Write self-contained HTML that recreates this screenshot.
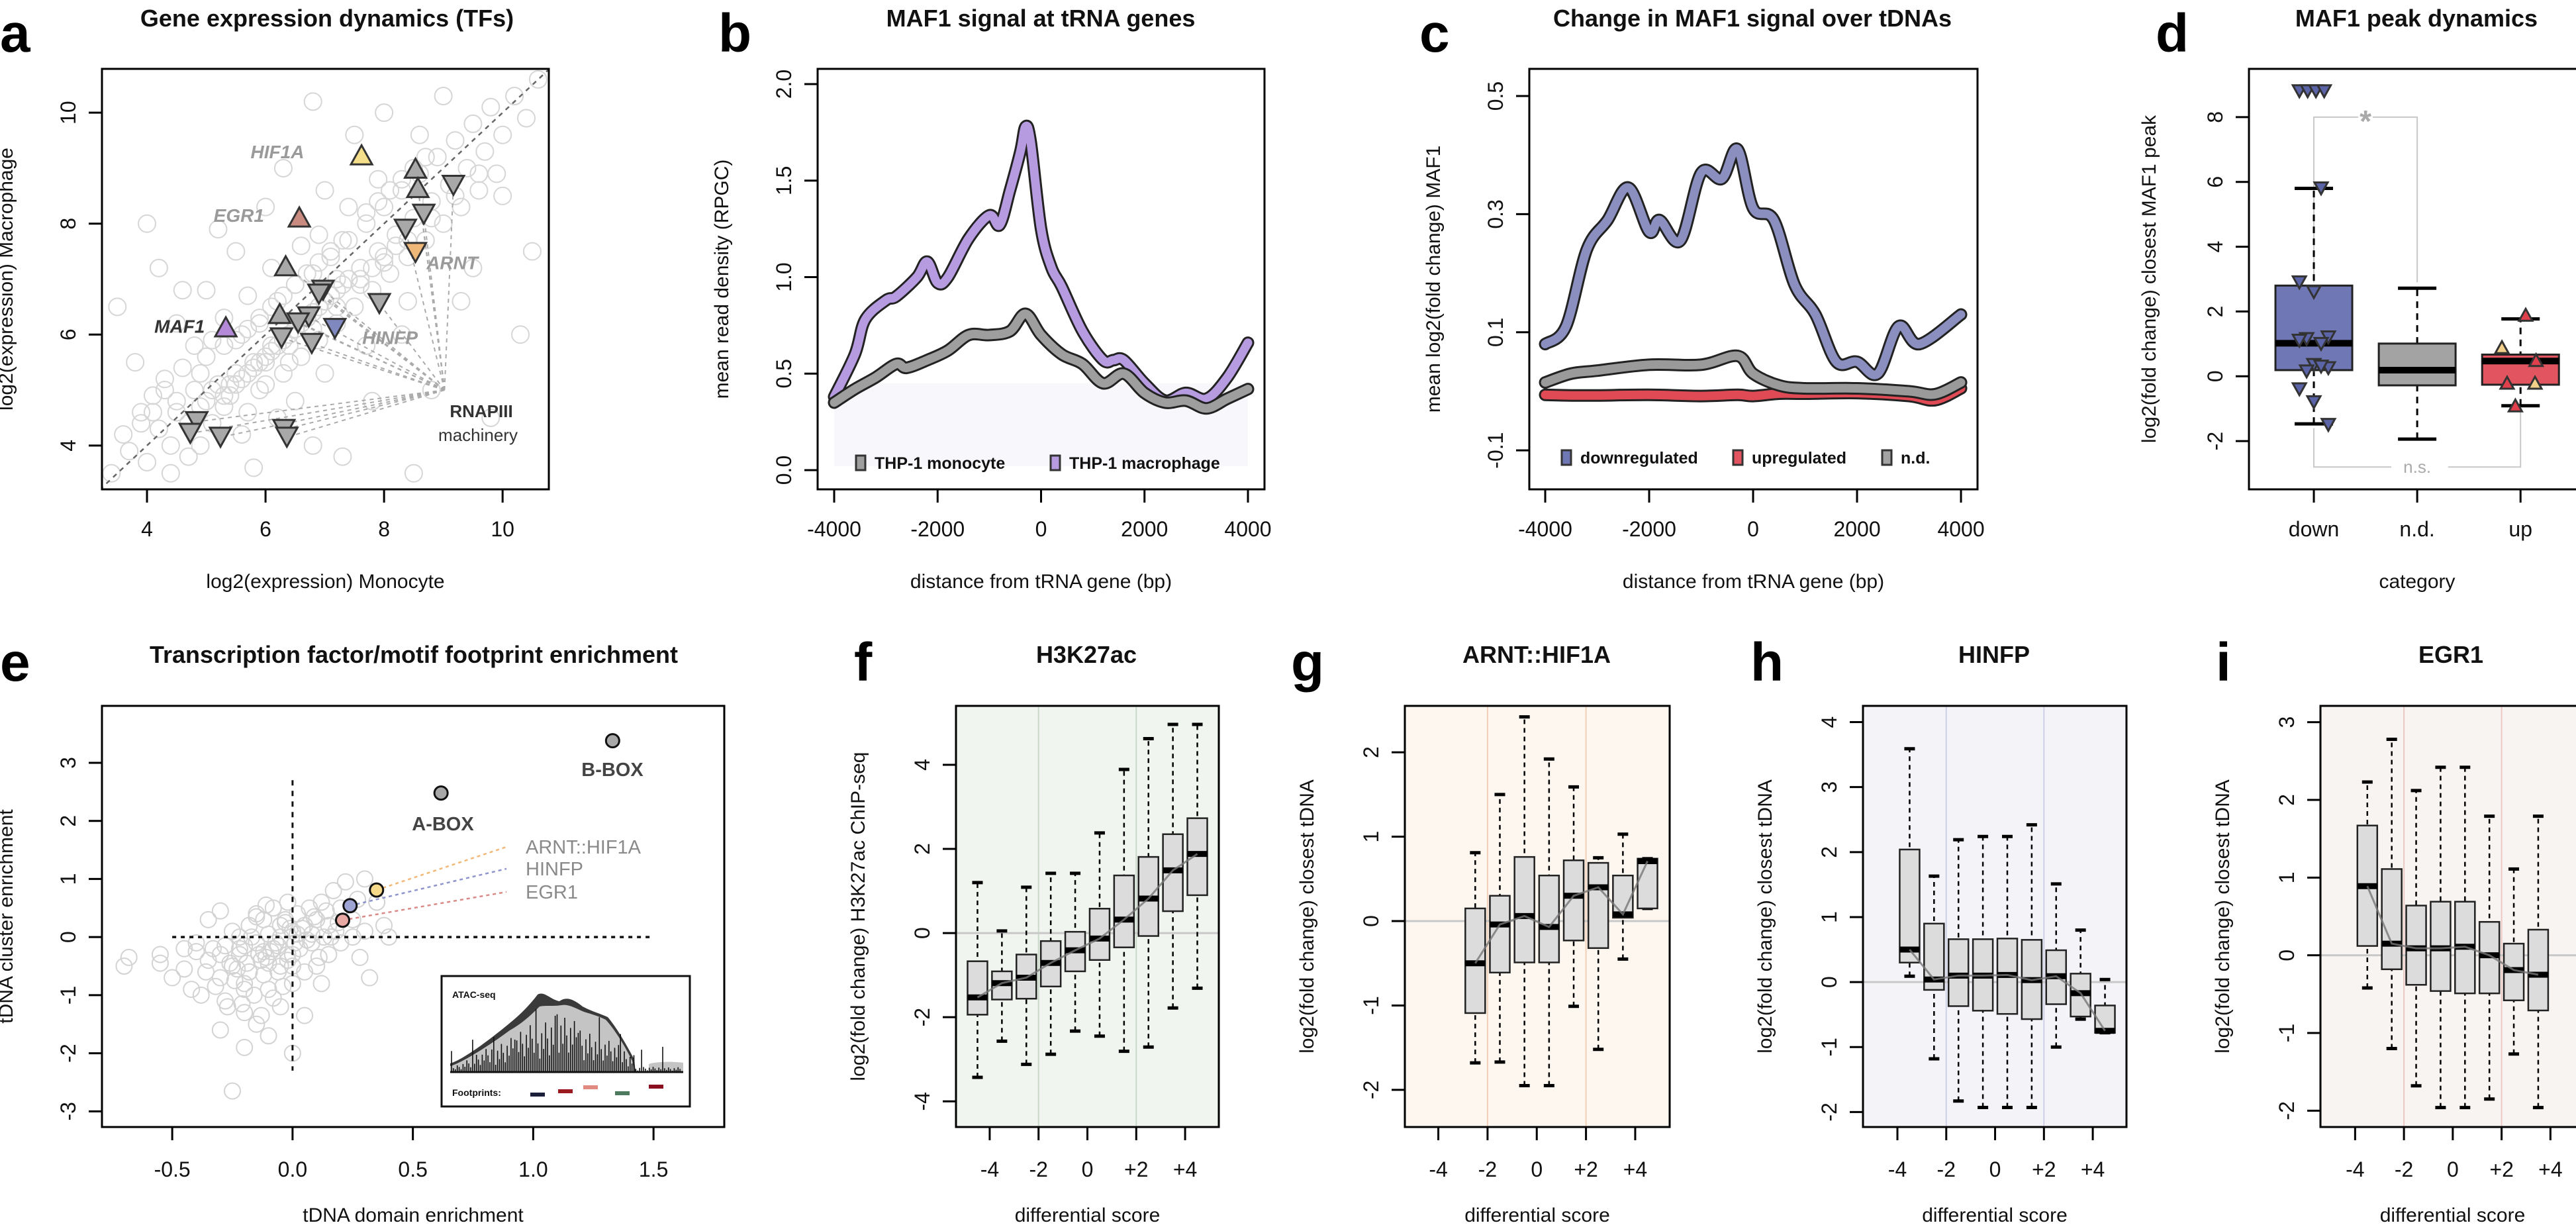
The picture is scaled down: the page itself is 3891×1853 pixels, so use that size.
<!DOCTYPE html>
<html><head><meta charset="utf-8"><title>MAF1 figure</title>
<style>
html,body{margin:0;padding:0;background:#fff;}
svg{display:block;font-family:"Liberation Sans",Arial,sans-serif;}
.tl{font-size:32px;fill:#111;}
.ax{font-size:30px;fill:#111;}
.ttl{font-size:36px;font-weight:bold;fill:#111;}
.let{font-size:82px;font-weight:bold;fill:#000;}
</style></head>
<body>
<svg id="fig" width="3891" height="1853" viewBox="0 0 3891 1853" xmlns="http://www.w3.org/2000/svg">
<text class="let" x="0" y="78">a</text>
<text class="let" x="1085" y="78">b</text>
<text class="let" x="2144" y="78">c</text>
<text class="let" x="3256" y="78">d</text>
<text class="let" x="0" y="1028">e</text>
<text class="let" x="1290" y="1028">f</text>
<text class="let" x="1950" y="1028">g</text>
<text class="let" x="2644" y="1028">h</text>
<text class="let" x="3347" y="1028">i</text>
<text class="ttl" x="494" y="40" text-anchor="middle">Gene expression dynamics (TFs)</text>
<text class="ttl" x="1572" y="40" text-anchor="middle">MAF1 signal at tRNA genes</text>
<text class="ttl" x="2647" y="40" text-anchor="middle">Change in MAF1 signal over tDNAs</text>
<text class="ttl" x="3650" y="40" text-anchor="middle">MAF1 peak dynamics</text>
<text class="ttl" x="625" y="1001" text-anchor="middle">Transcription factor/motif footprint enrichment</text>
<text class="ttl" x="1641" y="1001" text-anchor="middle">H3K27ac</text>
<text class="ttl" x="2321" y="1001" text-anchor="middle">ARNT::HIF1A</text>
<text class="ttl" x="3012" y="1001" text-anchor="middle">HINFP</text>
<text class="ttl" x="3702" y="1001" text-anchor="middle">EGR1</text>
</svg>
<script>
// ---------- DATA ----------
const cloudAx=[3.4,3.6,3.7,3.9,4.0,4.1,4.2,4.3,4.4,4.5,4.6,4.7,4.8,4.9,5.0,5.1,5.2,5.3,5.4,5.5,5.6,5.7,5.8,5.9,6.0,6.1,6.2,6.3,6.4,6.5,6.6,6.7,6.8,6.9,7.0,7.1,7.2,7.3,7.4,7.5,7.6,7.7,7.8,7.9,8.0,8.1,8.2,8.3,8.4,8.5,8.6,8.7,8.8,8.9,9.0,9.1,9.2,9.3,9.4,9.5,9.6,9.7,9.8,9.9,10.0,10.2,10.4,10.6,5.0,5.5,6.0,6.3,6.8,7.5,8.0,4.5,4.2,4.0,5.2,7.0,8.3,9.3,8.8,9.5,10.5,10.3,7.8,6.8,5.8,7.3,8.5,9.8,10.0,6.1,5.7,6.9,7.4,4.8,5.3,6.5,7.0,7.7,6.2,5.6,4.4,3.8,3.5,4.6,6.6,7.2,7.9,8.6,9.0,5.9,6.4,5.1,4.9,8.4,
 5.6,5.8,6.0,6.2,6.4,6.6,6.8,7.0,7.2,7.4,5.5,5.7,5.9,6.1,6.3,6.5,6.7,6.9,7.1,7.3,5.3,5.5,5.7,5.9,6.1,6.3,6.5,6.7,6.9,7.1,7.6,7.8,8.0,8.2,7.7,7.9,8.1,8.3,8.5,8.7,4.9,5.1,5.3,4.7,4.5,4.3,4.1,3.9,5.0,5.4,6.0,6.4,6.8,7.2,7.6,8.0,8.4,8.8,9.2,9.6];
const cloudAy=[3.5,4.2,3.9,4.6,3.7,4.9,4.3,5.2,4.0,4.6,5.4,3.8,5.0,4.7,5.6,4.4,5.1,5.8,4.9,5.3,6.0,4.6,5.5,6.2,5.1,5.8,6.6,5.3,6.0,6.9,5.6,6.3,7.1,5.9,6.6,7.4,6.2,6.9,7.7,6.5,7.2,8.0,6.8,7.5,8.3,7.1,7.8,8.6,7.4,8.1,8.9,7.7,8.4,9.2,8.0,8.7,9.5,8.3,9.0,9.8,8.6,9.3,10.1,8.9,9.6,10.3,9.9,10.6,6.8,7.5,8.3,9.0,10.2,9.6,10.0,6.2,7.2,8.0,7.9,8.6,6.0,6.6,5.0,7.2,7.5,6.0,4.8,4.0,3.6,3.8,3.5,4.5,8.5,7.2,6.7,7.8,8.3,5.8,6.3,4.8,5.3,5.8,4.5,4.2,3.5,5.5,6.5,6.8,7.6,7.0,8.8,9.6,10.3,5.0,5.5,5.9,4.0,6.6,
 5.2,5.4,5.6,5.8,6.0,6.2,6.4,6.6,6.8,7.0,5.9,6.1,6.3,6.5,6.7,6.9,7.1,7.3,7.5,7.7,4.9,5.1,5.3,5.5,5.7,5.9,6.1,6.3,6.5,6.7,7.0,7.2,7.4,7.6,8.2,8.4,8.6,8.8,9.0,9.2,5.3,5.0,4.7,4.4,4.8,5.0,4.6,4.4,4.8,5.1,5.5,5.8,6.1,6.5,6.9,7.3,7.7,8.1,8.5,8.9];
const triX=[7.62,6.57,5.33,8.53,7.17,8.53,8.57,6.34,6.24,9.17,8.67,8.36,6.97,6.90,7.92,6.73,6.55,6.27,6.78,4.84,4.73,5.24,6.31,6.36];
const triY=[9.24,8.12,6.14,7.48,6.11,9.00,8.65,7.24,6.38,8.69,8.17,7.90,6.80,6.73,6.56,6.32,6.21,5.94,5.84,4.43,4.22,4.15,4.29,4.15];
const triUp=[1,1,1,0,0,1,1,1,1,0,0,0,0,0,0,0,0,0,0,0,0,0,0,0];
const triCol=['#f5df8a','#c98a80','#b48ad8','#f0b878','#8088c0','#a8a8a8','#a8a8a8','#a8a8a8','#a8a8a8','#a8a8a8','#a8a8a8','#a8a8a8','#a8a8a8','#a8a8a8','#a8a8a8','#a8a8a8','#a8a8a8','#a8a8a8','#a8a8a8','#a8a8a8','#a8a8a8','#a8a8a8','#a8a8a8','#a8a8a8'];
const posB=[-4000,-3600,-3400,-3000,-2800,-2400,-2200,-2000,-1800,-1400,-1000,-800,-600,-400,-300,-200,0,200,400,800,1200,1400,1600,2000,2400,2800,3200,3600,4000];
const macroB=[0.38,0.6,0.78,0.88,0.9,1.0,1.08,0.97,1.0,1.2,1.32,1.27,1.45,1.65,1.78,1.7,1.25,1.05,0.95,0.72,0.57,0.57,0.57,0.45,0.36,0.4,0.37,0.48,0.66];
const posB2=[-4000,-3600,-3200,-2800,-2600,-2200,-1800,-1400,-1000,-600,-300,0,400,800,1200,1600,2000,2400,2800,3200,3600,4000];
const monoB=[0.35,0.42,0.48,0.55,0.53,0.57,0.62,0.70,0.70,0.72,0.81,0.70,0.60,0.55,0.45,0.50,0.40,0.35,0.36,0.32,0.37,0.42];
const posC=[-4000,-3600,-3200,-2800,-2400,-2000,-1800,-1400,-1000,-600,-300,0,400,800,1200,1600,2000,2400,2800,3200,4000];
const downC=[0.08,0.11,0.24,0.29,0.345,0.27,0.29,0.255,0.37,0.36,0.41,0.31,0.29,0.18,0.13,0.05,0.05,0.03,0.11,0.08,0.13];
const posC2=[-4000,-3500,-3000,-2000,-1000,-300,0,500,1000,2000,3000,3500,4000];
const ndC=[0.015,0.03,0.035,0.045,0.045,0.06,0.03,0.01,0.005,0.005,0.0,-0.005,0.015];
const upC=[-0.006,-0.007,-0.007,-0.006,-0.008,-0.006,-0.008,-0.004,-0.004,-0.003,-0.008,-0.015,0.005];
const catD=['down','n.d.','up'];
const boxD=[[-1.47,0.19,1.02,2.8,5.8],[-1.94,-0.28,0.19,1.01,2.72],[-0.91,-0.26,0.47,0.67,1.77]];
const colD=['#7077b5','#a3a3a3','#e25560'];
const downPts=[8.8,8.8,8.8,8.8,5.8,2.9,2.6,1.2,1.15,1.0,1.1,0.35,0.25,0.15,0.3,-0.4,-0.8,-1.5];
const upRed=[1.9,0.5,-0.2,-0.9];
const upYel=[0.9,-0.2];
const cloudEx=[-0.7,-0.68,-0.55,-0.55,-0.5,-0.45,-0.42,-0.4,-0.38,-0.35,-0.33,-0.3,-0.3,-0.28,-0.25,-0.25,-0.22,-0.2,-0.2,-0.18,-0.18,-0.15,-0.15,-0.13,-0.12,-0.1,-0.1,-0.08,-0.08,-0.06,-0.05,-0.05,-0.03,-0.02,0.0,0.0,0.02,0.03,0.05,0.05,0.07,0.08,0.1,0.1,0.12,0.13,0.15,0.15,0.17,0.18,0.2,0.2,0.22,0.25,0.27,0.3,0.3,0.32,0.35,0.38,0.4,0.05,-0.25,0.0,-0.2,-0.3,-0.35,-0.4,-0.12,-0.1,0.0,-0.2,-0.05,0.08,-0.15,0.25,0.28,-0.45,-0.02,0.12,-0.22,-0.3,
 -0.26,-0.22,-0.18,-0.14,-0.1,-0.06,-0.02,0.02,0.06,-0.24,-0.2,-0.16,-0.12,-0.08,-0.04,0.0,0.04,-0.28,-0.23,-0.17,-0.11,-0.07,-0.01,0.09,0.14,0.19,-0.32,-0.27,-0.21,-0.13,-0.09,-0.03,0.11,0.16,-0.19,-0.15,-0.11,-0.05,0.01,-0.36];
const cloudEy=[-0.5,-0.35,-0.3,-0.45,-0.7,-0.55,-0.9,-0.1,-1.0,-0.4,-0.2,-0.7,0.45,-1.1,-0.5,0.1,-0.3,-0.8,-1.3,0.2,-0.6,-1.5,-0.1,-0.4,0.3,-0.9,-1.7,-0.2,0.5,-0.6,0.0,-1.2,0.25,-0.4,0.1,-0.8,0.4,-0.2,0.2,-0.6,0.5,-0.1,0.3,-0.5,0.6,0.0,0.2,-0.3,0.8,0.1,0.5,-0.1,0.95,0.3,0.65,1.0,0.1,-0.7,0.6,0.2,0.0,-1.35,-2.65,-2.0,-1.9,-1.6,0.3,-0.25,-0.25,0.05,-0.3,-0.15,-0.5,0.05,0.35,0.0,-0.35,-0.2,0.6,-0.8,0.0,-0.3,
 -0.45,-0.2,-0.6,-0.3,-0.45,-0.15,-0.3,0.05,-0.05,-0.75,-0.9,-1.0,-0.65,-1.05,-0.85,-0.5,0.15,-0.15,-0.55,0.0,-0.35,-0.1,0.15,0.35,0.45,0.25,-0.85,-1.2,-1.15,-1.35,-0.25,0.3,-0.35,0.0,-0.45,0.4,0.55,0.2,-0.1,-0.6];
const motifName=['B-BOX','A-BOX','ARNT::HIF1A','HINFP','EGR1'];
const motifX=[1.33,0.617,0.349,0.239,0.208];
const motifY=[3.38,2.48,0.81,0.54,0.29];
const motifCol=['#a8a8a8','#a8a8a8','#f7d98a','#9ea4d4','#e8a8a4'];
const posF=[-4.5,-3.5,-2.5,-1.5,-0.5,0.5,1.5,2.5,3.5,4.5];
const boxF=[[-3.43,-1.94,-1.53,-0.67,1.2],[-2.57,-1.58,-1.19,-0.91,0.05],[-3.12,-1.56,-1.06,-0.51,1.09],[-2.88,-1.27,-0.71,-0.19,1.42],[-2.33,-0.91,-0.41,0.03,1.42],[-2.45,-0.64,-0.13,0.58,2.38],[-2.81,-0.34,0.32,1.37,3.89],[-2.71,-0.07,0.82,1.81,4.62],[-1.78,0.52,1.49,2.35,4.96],[-1.31,0.9,1.88,2.73,4.96]];
const posG=[-2.5,-1.5,-0.5,0.5,1.5,2.5,3.5,4.5];
const boxG=[[-1.68,-1.09,-0.5,0.15,0.81],[-1.67,-0.61,-0.04,0.3,1.5],[-1.95,-0.49,0.06,0.76,2.42],[-1.95,-0.49,-0.07,0.54,1.92],[-1.01,-0.23,0.3,0.72,1.59],[-1.52,-0.32,0.4,0.69,0.75],[-0.45,0.04,0.08,0.54,1.03],[0.15,0.15,0.71,0.74,0.74]];
const posH=[-3.5,-2.5,-1.5,-0.5,0.5,1.5,2.5,3.5,4.5];
const boxH=[[0.09,0.3,0.5,2.04,3.59],[-1.18,-0.12,0.04,0.9,1.63],[-1.83,-0.37,0.1,0.66,2.19],[-1.93,-0.44,0.1,0.66,2.24],[-1.93,-0.49,0.11,0.67,2.24],[-1.93,-0.57,0.03,0.65,2.42],[-1.0,-0.34,0.09,0.49,1.51],[-0.57,-0.53,-0.17,0.13,0.8],[-0.78,-0.78,-0.75,-0.36,0.04]];
const posI=[-3.5,-2.5,-1.5,-0.5,0.5,1.5,2.5,3.5];
const boxI=[[-0.42,0.12,0.89,1.67,2.23],[-1.2,-0.18,0.15,1.11,2.78],[-1.68,-0.38,0.09,0.64,2.12],[-1.96,-0.46,0.09,0.69,2.42],[-1.96,-0.49,0.11,0.69,2.42],[-1.85,-0.49,0.0,0.43,1.79],[-1.27,-0.58,-0.19,0.15,1.11],[-1.96,-0.71,-0.25,0.33,1.79]];
const diffTicks=[-4,-2,0,2,4];
const diffLabels=['-4','-2','0','+2','+4'];

// ---------- HELPERS ----------
const NS='http://www.w3.org/2000/svg';
const svg=document.getElementById('fig');
function mk(tag,attrs,parent){const e=document.createElementNS(NS,tag);for(const k in attrs)e.setAttribute(k,attrs[k]);(parent||svg).appendChild(e);return e;}
function lin(d0,d1,r0,r1){return v=>r0+(v-d0)/(d1-d0)*(r1-r0);}
function panel(x0,y0,x1,y1,xd,yd){return {x0,y0,x1,y1,sx:lin(xd[0],xd[1],x0,x1),sy:lin(yd[0],yd[1],y1,y0)};}
function smooth(pts){let d='M'+pts[0][0]+','+pts[0][1];for(let i=0;i<pts.length-1;i++){const p0=pts[i-1]||pts[i],p1=pts[i],p2=pts[i+1],p3=pts[i+2]||p2;const c1=[p1[0]+(p2[0]-p0[0])/6,p1[1]+(p2[1]-p0[1])/6],c2=[p2[0]-(p3[0]-p1[0])/6,p2[1]-(p3[1]-p1[1])/6];d+=' C'+c1[0]+','+c1[1]+' '+c2[0]+','+c2[1]+' '+p2[0]+','+p2[1];}return d;}
function clip(P,id){const cp=mk('clipPath',{id:id});mk('rect',{x:P.x0,y:P.y0,width:P.x1-P.x0,height:P.y1-P.y0},cp);return 'url(#'+id+')';}
function frame(P,name){
  const r=mk('rect',{x:P.x0,y:P.y0,width:P.x1-P.x0,height:P.y1-P.y0,fill:'none',stroke:'#000','stroke-width':3});
  
  
}
function xaxis(P,name,ticks,labels,title,lblY,titleY){
  ticks.forEach((t,i)=>{
    const x=P.sx(t);
    const l=mk('line',{x1:x,x2:x,y1:P.y1,y2:P.y1+20,stroke:'#000','stroke-width':3});
    
    
    const tx=mk('text',{x:x,y:lblY,'text-anchor':'middle',class:'tl'});tx.textContent=labels[i];
    
    
  });
  const tt=mk('text',{x:(P.x0+P.x1)/2,y:titleY,'text-anchor':'middle',class:'ax'});tt.textContent=title;
  
  
}
function yaxis(P,name,ticks,labels,title,off){
  ticks.forEach((t,i)=>{
    const y=P.sy(t);
    const l=mk('line',{x1:P.x0-20,x2:P.x0,y1:y,y2:y,stroke:'#000','stroke-width':3});
    
    
    const tx=mk('text',{x:P.x0-40,y:y,'text-anchor':'middle',class:'tl',transform:'rotate(-90 '+(P.x0-40)+' '+y+')'});tx.textContent=labels[i];
    
    
  });
  const cx=P.x0-(off||128),cy=(P.y0+P.y1)/2;
  const tt=mk('text',{x:cx,y:cy,'text-anchor':'middle',class:'ax',transform:'rotate(-90 '+cx+' '+cy+')'});tt.textContent=title;
  
  
}
function tri(x,y,up,col,s,parent){
  const h=s*0.9;
  const pts=up?[[x-s/2,y+h/2],[x+s/2,y+h/2],[x,y-h/2]]:[[x-s/2,y-h/2],[x+s/2,y-h/2],[x,y+h/2]];
  return mk('polygon',{points:pts.map(p=>p.join(',')).join(' '),fill:col,stroke:'#333','stroke-width':3},parent);
}
mk('defs',{});

// ---------- PANEL A ----------
const A=panel(154,104,829,739,[3.24,10.78],[3.21,10.79]);
const gA=mk('g',{'clip-path':clip(A,'clipA')});


cloudAx.forEach((v,i)=>{
  const c=mk('circle',{cx:A.sx(v),cy:A.sy(cloudAy[i]),r:13,fill:'none',stroke:'#d6d6d6','stroke-width':2},gA);
  
  
});
const diag=mk('line',{x1:A.sx(3.2),y1:A.sy(3.2),x2:A.sx(10.8),y2:A.sy(10.8),stroke:'#666','stroke-width':2.5,'stroke-dasharray':'7,7'},gA);


const rnaX=9.02,rnaY=5.0;
triX.forEach((v,i)=>{
  if(triCol[i]!=='#a8a8a8')return;
  const l=mk('line',{x1:A.sx(rnaX),y1:A.sy(rnaY),x2:A.sx(v),y2:A.sy(triY[i]),stroke:'#aaa','stroke-width':2,'stroke-dasharray':'6,6'},gA);
  
  
});
triX.forEach((v,i)=>{
  const t=tri(A.sx(v),A.sy(triY[i]),triUp[i],triCol[i],32,gA);
  
  
});
const labA=[['HIF1A',6.2,9.3,'#9a9a9a'],['EGR1',5.55,8.15,'#9a9a9a'],['MAF1',4.55,6.15,'#333'],['ARNT',9.15,7.3,'#9a9a9a'],['HINFP',8.1,5.95,'#9a9a9a']];
labA.forEach(L=>{
  const t=mk('text',{x:A.sx(L[1]),y:A.sy(L[2])+10,'text-anchor':'middle','font-size':28,'font-style':'italic','font-weight':'bold',fill:L[3]});t.textContent=L[0];
  
  
});
const r1=mk('text',{x:727,y:630,'text-anchor':'middle','font-size':26,'font-weight':'bold',fill:'#333'});r1.textContent='RNAPIII';


const r2=mk('text',{x:722,y:666,'text-anchor':'middle','font-size':26,fill:'#333'});r2.textContent='machinery';


frame(A,'panel-a');
xaxis(A,'panel-a',[4,6,8,10],['4','6','8','10'],'log2(expression) Monocyte',810,888);
yaxis(A,'panel-a',[4,6,8,10],['4','6','8','10'],'log2(expression) Macrophage',135);

// ---------- PANEL B ----------
const B=panel(1235,104,1910,739,[-4320,4320],[-0.0995,2.079]);
const bg=mk('rect',{x:1260,y:B.sy(0.45),width:625,height:B.sy(0.02)-B.sy(0.45),fill:'#f3f4fa',opacity:0.6});


function curve(P,xs,ys,col,name){
  const pts=xs.map((v,i)=>[P.sx(v),P.sy(ys[i])]);
  const d=smooth(pts);
  const o=mk('path',{d:d,fill:'none',stroke:'#222','stroke-width':19,'stroke-linejoin':'round','stroke-linecap':'round'});
  
  
  const p=mk('path',{d:d,fill:'none',stroke:col,'stroke-width':13,'stroke-linejoin':'round','stroke-linecap':'round'});
  
  
}
curve(B,posB,macroB,'#b79be0','macrophage-line');
curve(B,posB2,monoB,'#9e9e9e','monocyte-line');
function legend(x,y,col,label,name){
  const r=mk('rect',{x:x,y:y-20,width:14,height:22,fill:col,stroke:'#333','stroke-width':3});
  
  
  const t=mk('text',{x:x+28,y:y,'font-size':25,'font-weight':'bold',fill:'#111'});t.textContent=label;
  
  
}
legend(1293,708,'#9e9e9e','THP-1 monocyte','legend-monocyte');
legend(1587,708,'#b79be0','THP-1 macrophage','legend-macrophage');
frame(B,'panel-b');
xaxis(B,'panel-b',[-4000,-2000,0,2000,4000],['-4000','-2000','0','2000','4000'],'distance from tRNA gene (bp)',810,888);
yaxis(B,'panel-b',[0,0.5,1,1.5,2],['0.0','0.5','1.0','1.5','2.0'],'mean read density (RPGC)',135);

// ---------- PANEL C ----------
const C=panel(2310,104,2987,739,[-4306,4318],[-0.166,0.546]);
curve(C,posC2,upC,'#e04a55','upregulated-line');
curve(C,posC2,ndC,'#9a9a9a','nd-line');
curve(C,posC,downC,'#8a8fbf','downregulated-line');
legend(2359,700,'#7077b5','downregulated','legend-downregulated');
legend(2618,700,'#e25560','upregulated','legend-upregulated');
legend(2843,700,'#a3a3a3','n.d.','legend-nd');
frame(C,'panel-c');
xaxis(C,'panel-c',[-4000,-2000,0,2000,4000],['-4000','-2000','0','2000','4000'],'distance from tRNA gene (bp)',810,888);
yaxis(C,'panel-c',[-0.1,0.1,0.3,0.5],['-0.1','0.1','0.3','0.5'],'mean log2(fold change) MAF1',135);

// ---------- PANEL D ----------
const D=panel(3397,104,3904,739,[0.372,3.62],[-3.49,9.49]);
const brk=mk('polyline',{points:[[D.sx(1),D.sy(2.9)],[D.sx(1),D.sy(8)],[D.sx(1.43),D.sy(8)]].join(' '),fill:'none',stroke:'#c8c8c8','stroke-width':2});


const brk2=mk('polyline',{points:[[D.sx(1.57),D.sy(8)],[D.sx(2),D.sy(8)],[D.sx(2),D.sy(2.9)]].join(' '),fill:'none',stroke:'#c8c8c8','stroke-width':2});


const star=mk('text',{x:D.sx(1.5),y:D.sy(8)+22,'text-anchor':'middle','font-size':46,'font-weight':'bold',fill:'#aaa'});star.textContent='*';


const ns=mk('polyline',{points:[[D.sx(1),D.sy(-1.6)],[D.sx(1),D.sy(-2.8)],[D.sx(1.75),D.sy(-2.8)]].join(' '),fill:'none',stroke:'#c8c8c8','stroke-width':2});


const ns2=mk('polyline',{points:[[D.sx(2.3),D.sy(-2.8)],[D.sx(3),D.sy(-2.8)],[D.sx(3),D.sy(-1)]].join(' '),fill:'none',stroke:'#c8c8c8','stroke-width':2});


const nst=mk('text',{x:D.sx(2),y:D.sy(-2.8)+9,'text-anchor':'middle','font-size':26,fill:'#aaa'});nst.textContent='n.s.';


boxD.forEach((b,i)=>{
  const x=D.sx(i+1),hw=58;
  const w=mk('line',{x1:x,x2:x,y1:D.sy(b[0]),y2:D.sy(b[4]),stroke:'#000','stroke-width':3,'stroke-dasharray':'10,8'});
  
  
  [b[0],b[4]].forEach(v=>{const c=mk('line',{x1:x-29,x2:x+29,y1:D.sy(v),y2:D.sy(v),stroke:'#000','stroke-width':5});
    
    });
  const r=mk('rect',{x:x-hw,y:D.sy(b[3]),width:2*hw,height:D.sy(b[1])-D.sy(b[3]),fill:colD[i],stroke:'#222','stroke-width':3});
  
  
  const m=mk('line',{x1:x-hw,x2:x+hw,y1:D.sy(b[2]),y2:D.sy(b[2]),stroke:'#000','stroke-width':10});
  
  
  const tk=mk('line',{x1:x,x2:x,y1:D.y1,y2:D.y1+20,stroke:'#000','stroke-width':3});
  
  
  const tl=mk('text',{x:x,y:810,'text-anchor':'middle',class:'tl'});tl.textContent=catD[i];
  
  
});
downPts.forEach((v,i)=>{
  const dx=(i<4)?(-0.14+i*0.08):(((i*7)%5)-2)*0.07;
  const t=tri(D.sx(1+dx),D.sy(v),0,'#5c64a8',20);
  
  
});
upRed.forEach((v,i)=>{
  const dx=[0.05,0.15,-0.13,-0.05][i%4];
  const t=tri(D.sx(3+dx),D.sy(v),1,'#e0404c',20);
  
  
});
upYel.forEach((v,i)=>{
  const dx=[-0.18,0.14][i];
  const t=tri(D.sx(3+dx),D.sy(v),1,'#f2d089',20);
  
  
});
frame(D,'panel-d');
const dxt=mk('text',{x:3651,y:888,'text-anchor':'middle',class:'ax'});dxt.textContent='category';


yaxis(D,'panel-d',[-2,0,2,4,6,8],['-2','0','2','4','6','8'],'log2(fold change) closest MAF1 peak',141);

// ---------- PANEL E ----------
const E=panel(154,1066,1094,1702,[-0.792,1.794],[-3.27,3.98]);
cloudEx.forEach((v,i)=>{
  const c=mk('circle',{cx:E.sx(v),cy:E.sy(cloudEy[i]),r:12,fill:'none',stroke:'#d3d3d3','stroke-width':2});
  
  
});
const vdl=mk('line',{x1:E.sx(0),x2:E.sx(0),y1:E.sy(2.7),y2:E.sy(-2.3),stroke:'#111','stroke-width':3,'stroke-dasharray':'8,8'});


const hdl=mk('line',{x1:E.sx(-0.5),x2:E.sx(1.5),y1:E.sy(0),y2:E.sy(0),stroke:'#111','stroke-width':3.5,'stroke-dasharray':'6,7'});


const labYE=[0,0,1289,1322,1357];
motifName.forEach((n,i)=>{
  const cx=E.sx(motifX[i]),cy=E.sy(motifY[i]);
  if(i>=2){
    const l=mk('line',{x1:cx,y1:cy,x2:765,y2:labYE[i]-10,stroke:['','','#f2b877','#8f95cc','#d98a86'][i],'stroke-width':2.5,'stroke-dasharray':'5,5'});
    
    
    const t=mk('text',{x:794,y:labYE[i],'font-size':29,fill:'#8a8a8a'});t.textContent=n;
    
    
  }
  const c=mk('circle',{cx:cx,cy:cy,r:10,fill:motifCol[i],stroke:'#111','stroke-width':3});
  
  
});
const bb=mk('text',{x:925,y:1172,'text-anchor':'middle','font-size':29,'font-weight':'bold',fill:'#444'});bb.textContent='B-BOX';


const ab=mk('text',{x:669,y:1254,'text-anchor':'middle','font-size':29,'font-weight':'bold',fill:'#444'});ab.textContent='A-BOX';


const ins=mk('g',{});


const ir=mk('rect',{x:667,y:1474,width:375,height:197,fill:'#fff',stroke:'#111','stroke-width':3},ins);


const dark=mk('path',{d:'M680,1606 C700,1600 740,1570 770,1545 C785,1533 800,1518 812,1502 C822,1496 832,1510 845,1512 C855,1505 865,1508 880,1520 C895,1528 905,1530 918,1536 C930,1550 945,1575 958,1600 L960,1619 L680,1619 Z',fill:'#3a3a3a'},ins);


const light=mk('path',{d:'M680,1610 C700,1604 740,1578 770,1556 C790,1545 805,1530 815,1520 C825,1518 835,1520 848,1518 C858,1516 868,1522 882,1528 C895,1532 905,1535 915,1540 C928,1554 943,1578 955,1602 L958,1619 L680,1619 Z M980,1619 L980,1607 C990,1603 1020,1603 1032,1605 L1032,1619 Z',fill:'#c4c4c4'},ins);


let sp='';
for(let k=0;k<120;k++){const x=682+k*2.9;const base=(x<960)?1619-(1619-1520)*Math.max(0,1-Math.abs(x-840)/170)*0.8:1612;const h=((k*37)%23)/23;const top=1619-(1619-base)*(0.3+0.9*h)-(k%11===0?30:0);sp+='M'+x.toFixed(1)+',1619 V'+Math.max(1482,top).toFixed(1)+' ';}
const spk=mk('path',{d:sp,stroke:'#111','stroke-width':1.6,fill:'none'},ins);


const bl=mk('line',{x1:680,x2:1032,y1:1619,y2:1619,stroke:'#111','stroke-width':3},ins);


const at=mk('text',{x:683,y:1507,'font-size':14,'font-weight':'bold',fill:'#111'},ins);at.textContent='ATAC-seq';


const fp=mk('text',{x:683,y:1655,'font-size':14,'font-weight':'bold',fill:'#111'},ins);fp.textContent='Footprints:';


[[801,1650,'#1b1f3a'],[843,1645,'#9a1a20'],[881,1639,'#e08a80'],[929,1648,'#4e7a60'],[980,1638,'#8a1020']].forEach(f=>{
  const r=mk('rect',{x:f[0],y:f[1],width:22,height:6,fill:f[2]},ins);
  
  
});
frame(E,'panel-e');
xaxis(E,'panel-e',[-0.5,0,0.5,1,1.5],['-0.5','0.0','0.5','1.0','1.5'],'tDNA domain enrichment',1777,1845);
yaxis(E,'panel-e',[-3,-2,-1,0,1,2,3],['-3','-2','-1','0','1','2','3'],'tDNA cluster enrichment',135);

// ---------- PANELS F-I ----------
function boxPanel(P,name,pos,stats,tint,lineCol,yt,ylabels,ytitle){
  const bgr=mk('rect',{x:P.x0,y:P.y0,width:P.x1-P.x0,height:P.y1-P.y0,fill:tint});
  
  
  [-2,2].forEach(v=>{const l=mk('line',{x1:P.sx(v),x2:P.sx(v),y1:P.y0,y2:P.y1,stroke:lineCol,'stroke-width':2});
    
    });
  const z=mk('line',{x1:P.x0,x2:P.x1,y1:P.sy(0),y2:P.sy(0),stroke:'#c8c8c8','stroke-width':3});
  
  
  stats.forEach((b,i)=>{
    const x=P.sx(pos[i]);
    const w=mk('line',{x1:x,x2:x,y1:P.sy(b[0]),y2:P.sy(b[4]),stroke:'#000','stroke-width':2.5,'stroke-dasharray':'7,6'});
    
    
    [b[0],b[4]].forEach(v=>{const c=mk('line',{x1:x-8,x2:x+8,y1:P.sy(v),y2:P.sy(v),stroke:'#000','stroke-width':5});
      
      });
    const r=mk('rect',{x:x-15,y:P.sy(b[3]),width:30,height:Math.max(1,P.sy(b[1])-P.sy(b[3])),fill:'#dcdcdc',stroke:'#222','stroke-width':2.5});
    
    
    const m=mk('line',{x1:x-15,x2:x+15,y1:P.sy(b[2]),y2:P.sy(b[2]),stroke:'#000','stroke-width':9});
    
    
  });
  const trend=mk('polyline',{points:pos.map((p,i)=>P.sx(p)+','+P.sy(stats[i][2])).join(' '),fill:'none',stroke:'#777','stroke-width':3,opacity:0.8});
  
  
  frame(P,name);
  xaxis(P,name,diffTicks,diffLabels,'differential score',1777,1845);
  yaxis(P,name,yt,ylabels,ytitle,138);
}
const F=panel(1444,1066,1841,1702,[-5.38,5.38],[-4.61,5.40]);
boxPanel(F,'panel-f',posF,boxF,'#f1f5ef','#c9d9c9',[-4,-2,0,2,4],['-4','-2','0','2','4'],'log2(fold change) H3K27ac ChIP-seq');
const G=panel(2122,1066,2522,1702,[-5.36,5.40],[-2.44,2.55]);
boxPanel(G,'panel-g',posG,boxG,'#fdf7f0','#f2cfb8',[-2,-1,0,1,2],['-2','-1','0','1','2'],'log2(fold change) closest tDNA');
const H=panel(2814,1066,3212,1702,[-5.41,5.38],[-2.23,4.25]);
boxPanel(H,'panel-h',posH,boxH,'#f3f3f8','#cfd0e6',[-2,-1,0,1,2,3,4],['-2','-1','0','1','2','3','4'],'log2(fold change) closest tDNA');
const I=panel(3505,1066,3904,1702,[-5.42,5.40],[-2.21,3.21]);
boxPanel(I,'panel-i',posI,boxI,'#f8f4f2','#ebc8c4',[-2,-1,0,1,2,3],['-2','-1','0','1','2','3'],'log2(fold change) closest tDNA');
</script>
</body></html>
